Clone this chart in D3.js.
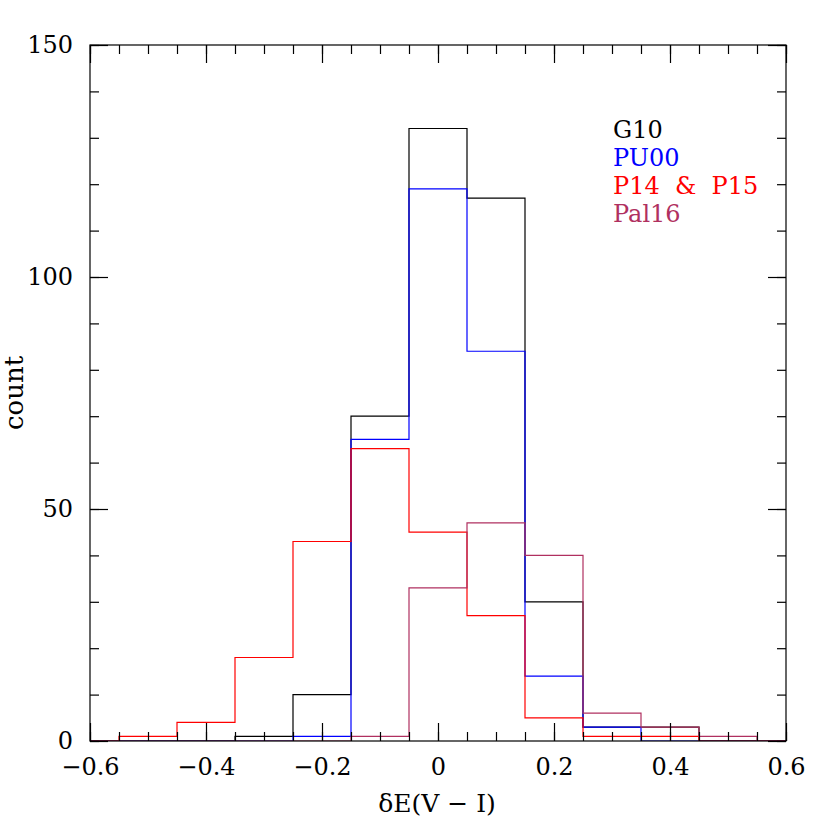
<!DOCTYPE html>
<html>
<head>
<meta charset="utf-8">
<script src="https://cdn.jsdelivr.net/npm/d3@7.9.0/dist/d3.min.js"></script>
<style>
  body { margin: 0; background: #fff; }
  svg text { font-family: "DejaVu Serif", serif; }
</style>
</head>
<body>
<svg id="chart" width="830" height="830"></svg>
<script>
// bin centres (width 0.1); end bins sit outside the frame and are clipped
const binCenters = [-0.6, -0.5, -0.4, -0.3, -0.2, -0.1, 0, 0.1, 0.2, 0.3, 0.4, 0.5, 0.6];
const binWidth = 0.1;

const g10   = [0, 0, 0, 1, 10, 70, 132, 117, 30, 3, 3, 0, 0];
const pu00  = [0, 0, 0, 0, 1, 65, 119, 84, 14, 3, 0, 0, 0];
const p1415 = [0, 1, 4, 18, 43, 63, 45, 27, 5, 1, 1, 0, 0];
const pal16 = [0, 0, 0, 0, 0, 1, 33, 47, 40, 6, 3, 1, 0];

const seriesNames = ['G10', 'PU00', 'P14 & P15', 'Pal16'];
const seriesColors = ['#000000', '#0000ff', '#ff0000', '#b03060'];
const seriesValues = [g10, pu00, p1415, pal16];

const xTicks = [-0.6, -0.4, -0.2, 0, 0.2, 0.4, 0.6];
const yTicks = [0, 50, 100, 150];

const margin = { left: 90, top: 45 };
const width = 696, height = 696;

const svg = d3.select('#chart');
const g = svg.append('g').attr('transform', `translate(${margin.left},${margin.top})`);

const x = d3.scaleLinear().domain([-0.6, 0.6]).range([0, width]);
const y = d3.scaleLinear().domain([0, 150]).range([height, 0]);

g.append('clipPath').attr('id', 'plot-clip')
  .append('rect').attr('width', width).attr('height', height);

// step outline for one histogram
function stepPoints(values) {
  const pts = [[binCenters[0] - binWidth / 2, 0]];
  values.forEach((v, i) => {
    pts.push([binCenters[i] - binWidth / 2, v]);
    pts.push([binCenters[i] + binWidth / 2, v]);
  });
  pts.push([binCenters[binCenters.length - 1] + binWidth / 2, 0]);
  return pts;
}

const line = d3.line().x((d) => x(d[0])).y((d) => y(d[1]));

const hist = g.append('g').attr('clip-path', 'url(#plot-clip)');
seriesValues.forEach((vals, i) => {
  hist.append('path')
    .attr('d', line(stepPoints(vals)))
    .attr('fill', 'none')
    .attr('stroke', seriesColors[i])
    .attr('stroke-width', 1.2);
});

// axes: ticks point inward on all four sides
const fmtX = (d) => (Math.abs(d) < 1e-9 ? '0' : d3.format('.1f')(d));
const xMinor = d3.range(-12, 13).map((k) => k * 0.05);
const yMinor = d3.range(0, 151, 10);

function styleAxis(sel) {
  sel.select('.domain').remove();
  sel.selectAll('line').attr('stroke', '#000').attr('stroke-width', 1.2);
  sel.selectAll('text').attr('font-size', 24).attr('fill', '#000')
    .attr('font-family', '"DejaVu Serif", serif');
}

g.append('g').attr('transform', `translate(0,${height})`)
  .call(d3.axisBottom(x).tickValues(xTicks).tickFormat(fmtX).tickSize(-18).tickPadding(17))
  .call(styleAxis);
g.append('g').attr('transform', `translate(0,${height})`)
  .call(d3.axisBottom(x).tickValues(xMinor).tickFormat('').tickSize(-9))
  .call(styleAxis);
g.append('g')
  .call(d3.axisTop(x).tickValues(xTicks).tickFormat('').tickSize(-18))
  .call(styleAxis);
g.append('g')
  .call(d3.axisTop(x).tickValues(xMinor).tickFormat('').tickSize(-9))
  .call(styleAxis);

g.append('g')
  .call(d3.axisLeft(y).tickValues(yTicks).tickSize(-18).tickPadding(17))
  .call(styleAxis);
g.append('g')
  .call(d3.axisLeft(y).tickValues(yMinor).tickFormat('').tickSize(-9))
  .call(styleAxis);
g.append('g').attr('transform', `translate(${width},0)`)
  .call(d3.axisRight(y).tickValues(yTicks).tickFormat('').tickSize(-18))
  .call(styleAxis);
g.append('g').attr('transform', `translate(${width},0)`)
  .call(d3.axisRight(y).tickValues(yMinor).tickFormat('').tickSize(-9))
  .call(styleAxis);

g.append('rect')
  .attr('width', width).attr('height', height)
  .attr('fill', 'none').attr('stroke', '#000').attr('stroke-width', 1.2);

// axis titles
svg.append('text')
  .attr('x', 437).attr('y', 812)
  .attr('text-anchor', 'middle')
  .attr('font-size', 25)
  .text('δE(V \u2212 I)');

svg.append('text')
  .attr('transform', 'translate(23,393) rotate(-90)')
  .attr('text-anchor', 'middle')
  .attr('font-size', 26)
  .text('count');

// legend
const legend = svg.append('g').attr('transform', 'translate(613,138)');
seriesNames.forEach((name, i) => {
  legend.append('text')
    .attr('y', i * 28)
    .attr('font-size', 24)
    .attr('fill', seriesColors[i])
    .attr('xml:space', 'preserve')
    .style('white-space', 'pre')
    .text(name.replace(' & ', '  &  '));
});
</script>
</body>
</html>
